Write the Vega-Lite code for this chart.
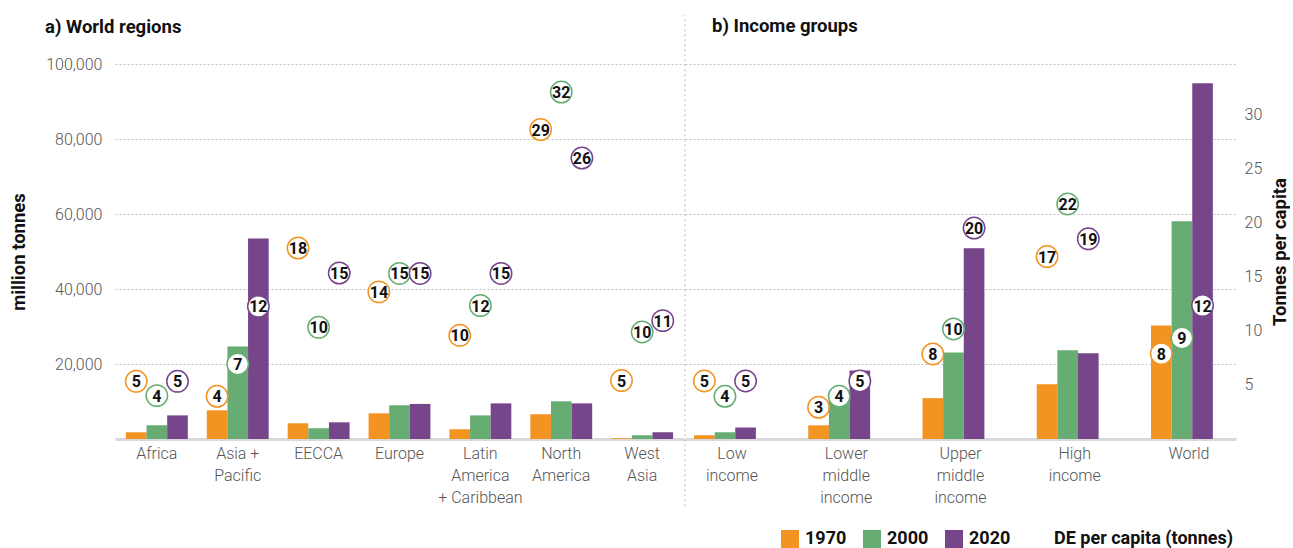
{
  "$schema": "https://vega.github.io/schema/vega-lite/v6.json",
  "padding": {"left": 9, "top": 14, "right": 0, "bottom": 0},
  "config": {
    "font": "Roboto",
    "view": {"stroke": null},
    "axis": {"labelFont": "Roboto", "labelFontSize": 16, "labelColor": "#555555", "labelFontWeight": 300, "titleFont": "Roboto", "titleFontSize": 18.5, "titleFontWeight": "bold", "titleColor": "#111111"},
    "legend": {"labelFont": "Roboto", "labelFontSize": 18, "labelFontWeight": "bold", "labelColor": "#111111", "padding": 0, "labelLimit": 400}
  },
  "datasets": {
    "regions": [
      {"g": "Africa", "year": "1970", "mt": 1800, "pc": 5.33},
      {"g": "Africa", "year": "2000", "mt": 3650, "pc": 4.01},
      {"g": "Africa", "year": "2020", "mt": 6300, "pc": 5.33},
      {"g": "Asia + Pacific", "year": "1970", "mt": 7650, "pc": 3.95},
      {"g": "Asia + Pacific", "year": "2000", "mt": 24700, "pc": 6.93},
      {"g": "Asia + Pacific", "year": "2020", "mt": 53500, "pc": 12.26},
      {"g": "EECCA", "year": "1970", "mt": 4200, "pc": 17.65},
      {"g": "EECCA", "year": "2000", "mt": 2850, "pc": 10.32},
      {"g": "EECCA", "year": "2020", "mt": 4450, "pc": 15.34},
      {"g": "Europe", "year": "1970", "mt": 6850, "pc": 13.6},
      {"g": "Europe", "year": "2000", "mt": 9000, "pc": 15.3},
      {"g": "Europe", "year": "2020", "mt": 9350, "pc": 15.3},
      {"g": "Latin America + Caribbean", "year": "1970", "mt": 2600, "pc": 9.58},
      {"g": "Latin America + Caribbean", "year": "2000", "mt": 6300, "pc": 12.33},
      {"g": "Latin America + Caribbean", "year": "2020", "mt": 9500, "pc": 15.3},
      {"g": "North America", "year": "1970", "mt": 6600, "pc": 28.6},
      {"g": "North America", "year": "2000", "mt": 10050, "pc": 32.07},
      {"g": "North America", "year": "2020", "mt": 9500, "pc": 25.97},
      {"g": "West Asia", "year": "1970", "mt": 200, "pc": 5.4},
      {"g": "West Asia", "year": "2000", "mt": 1000, "pc": 9.89},
      {"g": "West Asia", "year": "2020", "mt": 1800, "pc": 10.94}
    ],
    "income": [
      {"g": "Low income", "year": "1970", "mt": 1000, "pc": 5.36},
      {"g": "Low income", "year": "2000", "mt": 1800, "pc": 3.95},
      {"g": "Low income", "year": "2020", "mt": 3100, "pc": 5.36},
      {"g": "Lower middle income", "year": "1970", "mt": 3650, "pc": 2.93},
      {"g": "Lower middle income", "year": "2000", "mt": 10050, "pc": 3.95},
      {"g": "Lower middle income", "year": "2020", "mt": 18300, "pc": 5.36},
      {"g": "Upper middle income", "year": "1970", "mt": 10900, "pc": 7.86},
      {"g": "Upper middle income", "year": "2000", "mt": 23100, "pc": 10.17},
      {"g": "Upper middle income", "year": "2020", "mt": 50850, "pc": 19.5},
      {"g": "High income", "year": "1970", "mt": 14600, "pc": 16.86},
      {"g": "High income", "year": "2000", "mt": 23650, "pc": 21.72},
      {"g": "High income", "year": "2020", "mt": 22850, "pc": 18.5},
      {"g": "World", "year": "1970", "mt": 30300, "pc": 7.89},
      {"g": "World", "year": "2000", "mt": 58050, "pc": 9.33},
      {"g": "World", "year": "2020", "mt": 94850, "pc": 12.33}
    ]
  },
  "spacing": 0,
  "hconcat": [
    {
      "data": {"name": "regions"},
      "width": 569,
      "height": 375,
      "title": {"text": "a) World regions", "anchor": "start", "frame": "group", "dx": -70, "offset": 20, "fontSize": 18.5, "fontWeight": "bold", "color": "#111111"},
      "layer": [
        {
          "mark": {"type": "bar"},
          "encoding": {
            "x": {"field": "g", "type": "nominal", "sort": null, "scale": {"paddingInner": 0.235, "paddingOuter": 0.135},
              "axis": {"title": null, "labelAngle": 0, "ticks": false, "domainColor": "#d9d9d9", "domainWidth": 3, "labelLineHeight": 22, "labelPadding": 6, "labelBaseline": "top",
                "labelExpr": "datum.label == 'Asia + Pacific' ? ['Asia +', 'Pacific'] : datum.label == 'Latin America + Caribbean' ? ['Latin', 'America', '+ Caribbean'] : datum.label == 'North America' ? ['North', 'America'] : datum.label == 'West Asia' ? ['West', 'Asia'] : datum.label"}},
            "xOffset": {"field": "year", "type": "nominal", "scale": {"paddingInner": 0, "paddingOuter": 0}},
            "y": {"field": "mt", "type": "quantitative", "scale": {"domain": [0, 100000], "nice": false},
              "axis": {"title": "million tonnes", "titlePadding": 17, "values": [20000, 40000, 60000, 80000, 100000], "format": ",.0f", "grid": true, "gridDash": [2, 2], "gridColor": "#c4c4c4", "domain": false, "ticks": false, "labelPadding": 13}},
            "color": {"field": "year", "type": "nominal", "scale": {"domain": ["1970", "2000", "2020"], "range": ["#F39322", "#67AD73", "#76458A"]},
              "legend": {"orient": "none", "legendX": 666, "legendY": 466, "direction": "horizontal", "title": null, "symbolType": "square", "symbolSize": 324, "symbolStrokeWidth": 0, "columnPadding": 16, "labelOffset": 6}}
          }
        },
        {
          "mark": {"type": "point", "shape": "circle", "filled": false, "fill": "white", "fillOpacity": 1, "opacity": 1, "strokeWidth": 1.5, "size": 460},
          "encoding": {
            "x": {"field": "g", "type": "nominal", "sort": null},
            "xOffset": {"field": "year", "type": "nominal"},
            "y": {"field": "pc", "type": "quantitative", "scale": {"domain": [0, 34.66], "nice": false}, "axis": null},
            "stroke": {"field": "year", "type": "nominal", "scale": {"domain": ["1970", "2000", "2020"], "range": ["#F39322", "#67AD73", "#76458A"]}, "legend": null}
          }
        },
        {
          "mark": {"type": "text", "font": "Roboto", "fontWeight": "bold", "fontSize": 16, "color": "#111111", "baseline": "middle", "align": "center", "dy": 1},
          "encoding": {
            "x": {"field": "g", "type": "nominal", "sort": null},
            "xOffset": {"field": "year", "type": "nominal"},
            "y": {"field": "pc", "type": "quantitative", "scale": {"domain": [0, 34.66], "nice": false}, "axis": null},
            "text": {"field": "pc", "type": "quantitative", "format": ".0f"}
          }
        }
      ],
      "resolve": {"scale": {"y": "independent"}}
    },
    {
      "data": {"name": "income"},
      "width": 551,
      "height": 375,
      "title": {"text": "b) Income groups", "anchor": "start", "frame": "group", "dx": 27, "offset": -21, "fontSize": 18.5, "fontWeight": "bold", "color": "#111111"},
      "layer": [
        {
          "mark": {"type": "bar"},
          "encoding": {
            "x": {"field": "g", "type": "nominal", "sort": null, "scale": {"paddingInner": 0.335, "paddingOuter": 0.079},
              "axis": {"title": null, "labelAngle": 0, "ticks": false, "domainColor": "#d9d9d9", "domainWidth": 3, "labelLineHeight": 22, "labelPadding": 6, "labelBaseline": "top",
                "labelExpr": "split(datum.label, ' ')"}},
            "xOffset": {"field": "year", "type": "nominal", "scale": {"paddingInner": 0, "paddingOuter": 0}},
            "y": {"field": "mt", "type": "quantitative", "scale": {"domain": [0, 100000], "nice": false},
              "axis": {"title": null, "values": [20000, 40000, 60000, 80000, 100000], "labels": false, "grid": true, "gridDash": [2, 2], "gridColor": "#c4c4c4", "domain": false, "ticks": false}},
            "color": {"field": "year", "type": "nominal", "scale": {"domain": ["1970", "2000", "2020"], "range": ["#F39322", "#67AD73", "#76458A"]}}
          }
        },
        {
          "data": {"values": [{"sep": "panel divider"}]},
          "mark": {"type": "rule", "color": "#b8b8b8", "strokeWidth": 1, "strokeDash": [2, 3]},
          "encoding": {
            "x": {"datum": "Low income", "bandPosition": -0.119},
            "y": {"datum": -17950, "type": "quantitative", "scale": {"domain": [0, 100000], "nice": false}, "axis": null},
            "y2": {"datum": 112990}
          }
        },
        {
          "mark": {"type": "point", "shape": "circle", "filled": false, "fill": "white", "fillOpacity": 1, "opacity": 1, "strokeWidth": 1.5, "size": 460},
          "encoding": {
            "x": {"field": "g", "type": "nominal", "sort": null},
            "xOffset": {"field": "year", "type": "nominal"},
            "y": {"field": "pc", "type": "quantitative", "scale": {"domain": [0, 34.66], "nice": false},
              "axis": {"orient": "right", "title": "Tonnes per capita", "titleAngle": 270, "titleBaseline": "top", "titlePadding": 9, "values": [5, 10, 15, 20, 25, 30], "grid": false, "domain": false, "ticks": false, "labelPadding": 8}},
            "stroke": {"field": "year", "type": "nominal", "scale": {"domain": ["1970", "2000", "2020"], "range": ["#F39322", "#67AD73", "#76458A"]}, "legend": null},
            "shape": {"datum": "DE per capita (tonnes)", "scale": {"range": ["circle"]},
              "legend": {"orient": "none", "legendX": 915, "legendY": 466, "title": null, "symbolType": "circle", "symbolSize": 254, "symbolStrokeColor": "#111111", "symbolFillColor": "white", "symbolStrokeWidth": 1.5, "labelOffset": 6,
                "encode": {"symbols": {"stroke": {"value": "#111111"}, "fill": {"value": "#ffffff"}, "strokeWidth": {"value": 1.5}, "opacity": {"value": 1}, "fillOpacity": {"value": 1}, "strokeOpacity": {"value": 1}}}}}
          }
        },
        {
          "mark": {"type": "text", "font": "Roboto", "fontWeight": "bold", "fontSize": 16, "color": "#111111", "baseline": "middle", "align": "center", "dy": 1},
          "encoding": {
            "x": {"field": "g", "type": "nominal", "sort": null},
            "xOffset": {"field": "year", "type": "nominal"},
            "y": {"field": "pc", "type": "quantitative", "scale": {"domain": [0, 34.66], "nice": false}, "axis": null},
            "text": {"field": "pc", "type": "quantitative", "format": ".0f"}
          }
        }
      ],
      "resolve": {"scale": {"y": "independent"}}
    }
  ]
}
